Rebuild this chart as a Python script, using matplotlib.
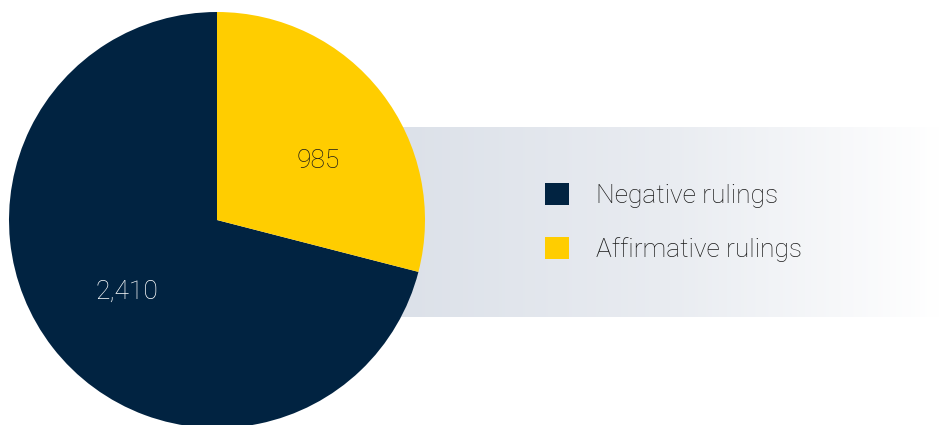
import numpy as np
import matplotlib
matplotlib.use("Agg")
import matplotlib.pyplot as plt
from matplotlib.colors import LinearSegmentedColormap

# rulings split
labels = ["Negative rulings", "Affirmative rulings"]
counts = [2410, 985]
colors = ["#012341", "#ffcd00"]
label_colors = ["white", "#1a1a1a"]
label_xy = [(127, 292), (318, 161)]  # value label spots, px from top-left

plt.rcParams["font.family"] = ["Roboto", "DejaVu Sans"]

W, H = 945, 425
fig = plt.figure(figsize=(W / 100, H / 100), dpi=100)
ax = fig.add_axes([0, 0, 1, 1])

# soft band behind the legend, fading to white
band = LinearSegmentedColormap.from_list("band", ["#dce1e9", "#e9ecf1", "#ffffff"])
grad = np.linspace(0, 1, 256).reshape(1, -1)
ax.imshow(grad, cmap=band, aspect="auto", extent=[400, 940, H - 317, H - 127], zorder=0)

total = sum(counts)
wedges, _, autotexts = ax.pie(
    counts, colors=colors, startangle=90, center=(217, H - 220), radius=208,
    autopct=lambda p: f"{p * total / 100:,.0f}", pctdistance=0.56,
    wedgeprops=dict(linewidth=0), textprops=dict(fontsize=19, fontweight="light"),
)
for w in wedges:
    w.set_zorder(2)
for t, c, (x, y) in zip(autotexts, label_colors, label_xy):
    t.set_color(c)
    t.set_position((x, H - y))
    t.set_zorder(3)

ax.set_xlim(0, W)
ax.set_ylim(0, H)
ax.set_aspect("auto")
ax.axis("off")

leg = ax.legend(
    wedges, labels, loc="center left", bbox_to_anchor=(545 / W, 1 - 222.5 / H),
    frameon=False, fontsize=19, handlelength=0.9, handleheight=0.9,
    handletextpad=1.05, labelspacing=1.12, borderaxespad=0, borderpad=0,
)
for t in leg.get_texts():
    t.set_color("#1a1a1a")
    t.set_fontweight("light")

fig.savefig("out.png", dpi=100)
